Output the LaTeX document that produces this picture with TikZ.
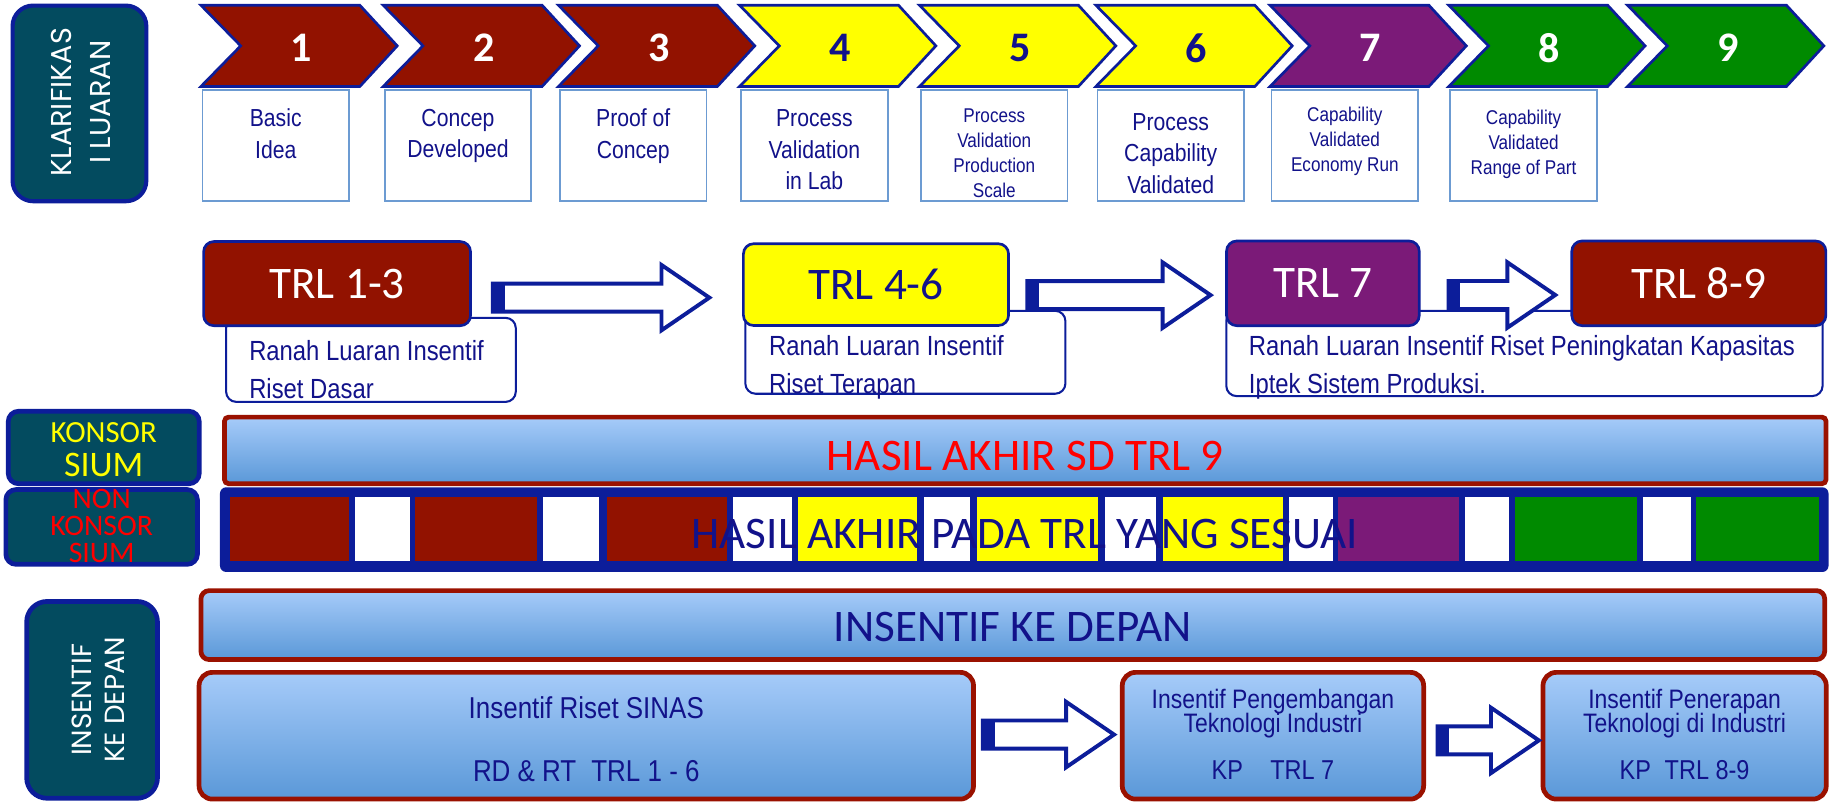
\documentclass[tikz,border=0pt]{standalone}
\usepackage{fontspec}
\setmainfont{Carlito}
\newfontfamily\narrowfont[FakeStretch=0.86]{Liberation Sans}
\newfontfamily\roundfont{Poppins}
\usetikzlibrary{calc}

\definecolor{trlred}{HTML}{921200}
\definecolor{trlyellow}{HTML}{FFFF00}
\definecolor{trlpurple}{HTML}{7B1A78}
\definecolor{trlgreen}{HTML}{008A00}
\definecolor{edgeblue}{HTML}{0C1D9A}
\definecolor{tealfill}{HTML}{034B5F}
\definecolor{navytext}{HTML}{12128A}
\definecolor{paleedge}{HTML}{6C9BD2}
\definecolor{barred}{HTML}{9A1100}
\definecolor{skytop}{HTML}{A6CBF9}
\definecolor{skybot}{HTML}{5A98D8}

\newcommand\tightlines{\lineskiplimit=-5pt\relax}

% block arrow from tail coordinate #1 to tip coordinate #2
\newcommand\fatarrow[2]{%
  \draw[fatline] ($(#1)+(0,-12)$) -- ($(#2)+(-41,-12)$) -- ($(#2)+(-41,-28)$) -- (#2)
    -- ($(#2)+(-41,28)$) -- ($(#2)+(-41,12)$) -- ($(#1)+(0,12)$) -- cycle;
  \fill[edgeblue] ($(#1)+(-1.5,-13.5)$) rectangle ($(#1)+(10,13.5)$);
}

\begin{document}
\begin{tikzpicture}[x=0.02cm, y=-0.02cm,
    chev/.style={draw=edgeblue, line width=1.3pt},
    num/.style={inner sep=0pt, font=\fontsize{20.5}{24}\selectfont\bfseries},
    descbox/.style={draw=paleedge, line width=0.85pt, fill=white, minimum width=2.51cm, minimum height=1.91cm, inner sep=0pt},
    descbig/.style={anchor=north, align=center, inner sep=0pt, text=navytext, font=\narrowfont\fontsize{12}{15.4}\selectfont},
    descsmall/.style={descbig, font=\narrowfont\fontsize{9.7}{12.2}\selectfont},
    trlbox/.style={draw=edgeblue, line width=1.3pt, rounded corners=5pt, inner sep=0pt, font=\fontsize{22}{24}\selectfont},
    rangebox/.style={draw=edgeblue, line width=1pt, rounded corners=5pt, fill=white, inner sep=0pt},
    rangetext/.style={anchor=north west, align=left, inner sep=0pt, text=navytext, font=\narrowfont\fontsize{13.5}{18.3}\selectfont},
    sidebox/.style={draw=edgeblue, fill=tealfill, line width=2.3pt, rounded corners=5pt, inner sep=0pt},
    sidetext/.style={rotate=90, align=center, inner sep=0pt, text=white, font=\roundfont\fontsize{14}{18.8}\selectfont},
    skybar/.style={draw=barred, line width=2.3pt, top color=skytop, bottom color=skybot, inner sep=0pt},
    bigtext/.style={inner sep=0pt, font=\fontsize{22}{26}\selectfont},
    fatline/.style={draw=edgeblue, fill=white, line width=1.9pt},
    boxtext/.style={inner sep=0pt, align=center, text=navytext, font=\narrowfont\fontsize{13}{11.8}\selectfont\tightlines}]

    \useasboundingbox (0,0) rectangle (1568,687);

    % Klarifikasi luaran
    \node[sidebox, rounded corners=10pt, line width=2pt, minimum width=2.29cm, minimum height=3.35cm] (klar) at (68,88.5) {};
    \node[sidetext] (klartext) at (69.5,87.5) {KLARIFIKAS\\I LUARAN};

    % Chevrons 1 to 9
    \foreach \n/\x/\c/\t in {1/172/trlred/white, 2/328/trlred/white, 3/478/trlred/white,
        4/633/trlyellow/navytext, 5/787/trlyellow/navytext, 6/938/trlyellow/navytext,
        7/1087/trlpurple/white, 8/1240/trlgreen/white, 9/1393/trlgreen/white}{
      \draw[chev, fill=\c] (\x,4.5) -- ++(136,0) -- ++(32,34.75) -- ++(-32,34.75) -- ++(-136,0) -- ++(34,-34.75) -- cycle;
      \node[num, text=\t] (c\n) at (\x+86,41) {\n};
    }

    % Description boxes
    \foreach \n/\x/\d/\s/\t in {1/172/17/descbig/{Basic\\Idea}, 2/328/17/descbig/{Concep\\Developed},
        3/478/17/descbig/{Proof of\\Concep}, 4/633/17.5/descbig/{Process\\Validation\\in Lab},
        5/787/17/descsmall/{Process\\Validation\\Production\\Scale}, 6/938/20.5/descbig/{Process\\Capability\\Validated},
        7/1087/15/descsmall/{Capability\\Validated\\Economy Run}, 8/1240/18/descsmall/{Capability\\Validated\\Range of Part}}{
      \node[descbox] (d\n) at (\x+64,124.5) {};
      \node[\s] (dt\n) at ($(d\n.north)+(0,\d)$) {\t};
    }

    % TRL ranges
    \node[rangebox, minimum width=4.96cm, minimum height=1.44cm] (s13) at (317.5,308) {};
    \node[rangebox, minimum width=5.48cm, minimum height=1.42cm] (s46) at (774.9,301.5) {};
    \node[rangebox, minimum width=10.21cm, minimum height=1.46cm] (s79) at (1304.75,302.5) {};
    \node[rangetext] (r13) at (213,291) {Ranah Luaran Insentif\\Riset Dasar};
    \node[rangetext] (r46) at (658,287) {Ranah Luaran Insentif\\Riset Terapan};
    \node[rangetext] (r79) at (1068.6,287) {Ranah Luaran Insentif Riset Peningkatan Kapasitas\\Iptek Sistem Produksi.};

    \node[trlbox, fill=trlred, text=white, minimum width=4.57cm, minimum height=1.44cm] (t13) at (288.5,242.75) {TRL 1-3};
    \node[trlbox, fill=trlyellow, text=navytext, minimum width=4.54cm, minimum height=1.40cm] (t46) at (749.75,243.6) {TRL 4-6};
    \node[trlbox, fill=trlpurple, text=white, minimum width=3.3cm, minimum height=1.45cm] (t7) at (1132.25,242.5) {TRL 7};
    \node[trlbox, fill=trlred, text=white, minimum width=4.35cm, minimum height=1.45cm] (t89) at (1454,242.5) {TRL 8-9};

    \coordinate (a1t) at ($(t13.east)+(18,12)$);
    \coordinate (a1h) at ($(a1t-|t46.west)+(-28,0)$);
    \coordinate (a2t) at ($(t46.east)+(15,9)$);
    \coordinate (a2h) at ($(a2t-|t7.west)+(-12.5,0)$);
    \coordinate (a3t) at ($(t7.east)+(24,10)$);
    \coordinate (a3h) at ($(a3t-|t89.west)+(-13,0)$);
    \fatarrow{a1t}{a1h}
    \fatarrow{a2t}{a2h}
    \fatarrow{a3t}{a3h}

    % Konsorsium / non konsorsium
    \node[sidebox, minimum width=3.27cm, minimum height=1.24cm] (kons) at (88.8,383) {};
    \node[align=center, inner sep=0pt, text=trlyellow, font=\fontsize{15}{16.3}\selectfont] (konstext) at (88.8,385) {KONSOR\\{\fontsize{17.5}{16.3}\selectfont SIUM}};
    \node[sidebox, minimum width=3.28cm, minimum height=1.28cm] (nkons) at (87,451) {};
    \node[align=center, inner sep=0pt, text=red, font=\fontsize{14.5}{13}\selectfont] (nkonstext) at (87,450) {NON\\KONSOR\\SIUM};

    \node[skybar, rounded corners=2pt, minimum width=27.42cm, minimum height=1.14cm] (hasil) at (877.5,385.5) {};
    \node[bigtext, text=red] (hasiltext) at (877.5,390) {HASIL AKHIR SD TRL 9};

    \node[fill=edgeblue, rounded corners=3pt, minimum width=27.54cm, minimum height=1.45cm, inner sep=0pt] (sesuai) at (876.65,453.3) {};
    \foreach \a/\b/\c in {197/299/trlred, 304/350.5/white, 355.5/459.5/trlred, 464.5/513/white,
        519.5/622.5/trlred, 627.5/678/white, 683/784.5/trlyellow, 790.5/830.5/white,
        836.5/939.5/trlyellow, 946/989/white, 995/1098.5/trlyellow, 1103.5/1140.5/white,
        1145.5/1248.5/trlpurple, 1253.5/1291.5/white, 1297/1401/trlgreen, 1406/1447/white, 1452/1556.5/trlgreen}
      \fill[\c] (\a,425.5) rectangle (\b,480);
    \node[bigtext, text=navytext] (sesuaitext) at (877,457) {HASIL AKHIR PADA TRL YANG SESUAI};

    % Insentif ke depan
    \node[sidebox, rounded corners=10pt, minimum width=2.24cm, minimum height=3.37cm] (ins) at (78.8,599) {};
    \node[sidetext, font=\roundfont\fontsize{13.5}{16}\selectfont] (instext) at (84,599) {INSENTIF\\KE DEPAN};

    \node[skybar, rounded corners=4pt, minimum width=27.8cm, minimum height=1.18cm] (depan) at (866.85,535) {};
    \node[bigtext, text=navytext] (depantext) at (866.85,537) {INSENTIF KE DEPAN};

    \node[skybar, rounded corners=6.5pt, minimum width=13.26cm, minimum height=2.17cm] (b1) at (501.8,629.7) {};
    \node[skybar, rounded corners=6.5pt, minimum width=5.16cm, minimum height=2.17cm] (b2) at (1089.5,629.7) {};
    \node[skybar, rounded corners=6.5pt, minimum width=4.85cm, minimum height=2.17cm] (b3) at (1441.85,629.7) {};

    \node[boxtext, anchor=base, font=\narrowfont\fontsize{14.7}{16}\selectfont] (b1a) at (501.8,615) {Insentif Riset SINAS};
    \node[boxtext, anchor=base, font=\narrowfont\fontsize{14.7}{16}\selectfont] (b1b) at (501.8,669) {RD \& RT\enspace TRL 1 - 6};
    \node[boxtext, anchor=north] (b2a) at (1089.5,589.5) {Insentif Pengembangan\\Teknologi Industri};
    \node[boxtext, anchor=base, font=\narrowfont\fontsize{13.3}{16}\selectfont] (b2b) at (1089.5,667.4) {KP\quad TRL 7};
    \node[boxtext, anchor=north] (b3a) at (1441.85,589.5) {Insentif Penerapan\\Teknologi di Industri};
    \node[boxtext, anchor=base, font=\narrowfont\fontsize{13.3}{16}\selectfont] (b3b) at (1441.85,667.4) {KP\enspace TRL 8-9};

    \coordinate (a4t) at ($(b1.east)+(6,-1)$);
    \coordinate (a4h) at ($(a4t-|b2.west)+(-5,0)$);
    \coordinate (a5t) at ($(b2.east)+(10,4)$);
    \coordinate (a5h) at ($(a5t-|b3.west)+(-1.5,0)$);
    \fatarrow{a4t}{a4h}
    \fatarrow{a5t}{a5h}
\end{tikzpicture}
\end{document}
